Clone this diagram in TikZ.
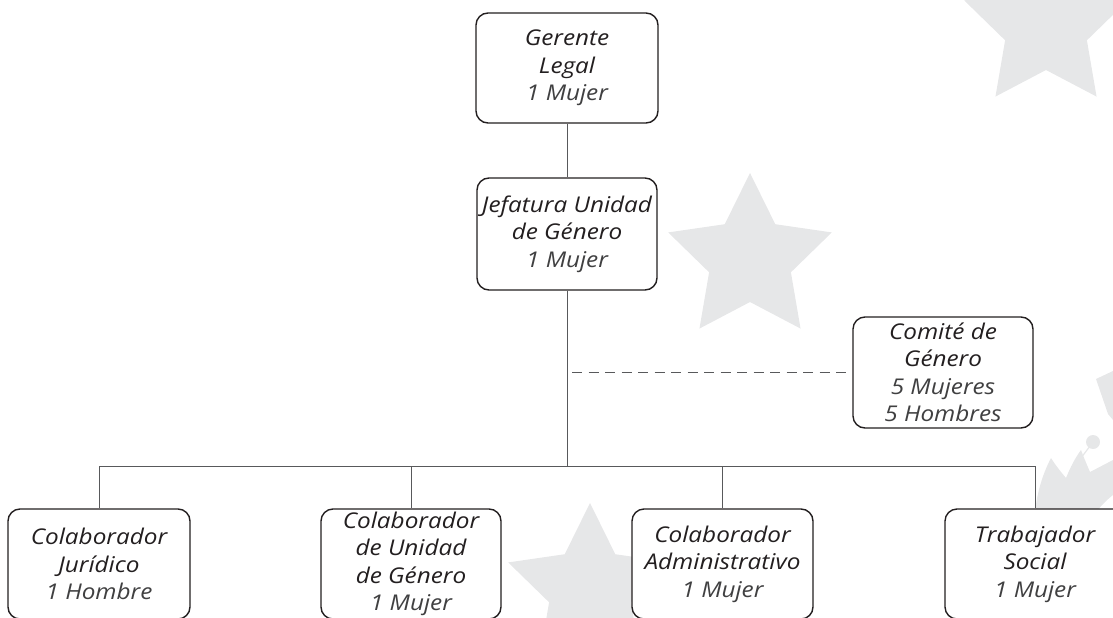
\documentclass[tikz,border=0pt]{standalone}
\usepackage{fontspec}
\setmainfont{Open Sans}[FakeStretch=1.12]
\usetikzlibrary{calc}
\definecolor{starfill}{HTML}{E6E7E8}
\definecolor{boxline}{HTML}{231F20}
\definecolor{txtcol}{HTML}{231F20}
\definecolor{cntcol}{HTML}{404041}
\definecolor{linecol}{HTML}{58595B}
\newcommand\cnt[1]{{\color{cntcol}#1}}
\newcommand\gstar[4]{\fill[starfill,shift={(#1,#2)}] (-90:#3) \foreach \k in {0,...,4}{ -- ({-54+72*\k}:#4) -- ({-18+72*\k}:#3)} -- cycle;}
\tikzset{
  orgbox/.style={draw=boxline, line width=1.4pt, rounded corners=12pt, fill=white,
    minimum width=180pt, minimum height=110pt, inner sep=0pt, align=center,
    text=txtcol, font=\fontsize{21.7}{27.5}\selectfont\itshape},
  conn/.style={draw=linecol, line width=0.9pt},
  dashconn/.style={conn, dash pattern=on 10pt off 6.5pt}
}
\begin{document}
\begin{tikzpicture}[x=1pt,y=-1pt]
\useasboundingbox (0,0) rectangle (1113,618);
\clip (0,0) rectangle (1113,618);
% background decorations
\gstar{750}{259}{86}{43}
\gstar{590}{589}{86}{43}
\gstar{1046}{27}{86}{43}
\fill[starfill] (1096,379) -- (1113,371) -- (1113,420) -- (1108,414) -- cycle;
\fill[starfill] (1093,442) circle (7);
\draw[starfill, line width=1.2pt] (1093,442) -- (1078,462);
\fill[starfill] (1034,530) .. controls (1034,500) and (1042,475) .. (1051,458)
  .. controls (1056,466) and (1061,472) .. (1066,478)
  .. controls (1070,468) and (1075,458) .. (1081,450)
  .. controls (1084,458) and (1087,465) .. (1090,472)
  -- (1113,460) -- (1113,495)
  .. controls (1100,505) and (1090,520) .. (1080,530) -- cycle;
% nodes
\node[orgbox, minimum width=182pt] (gl) at (567,68) {Gerente\\Legal\\\cnt{1 Mujer}};
\node[orgbox, minimum height=112pt] (ju) at (567,234) {Jefatura Unidad\\de Género\\\cnt{1 Mujer}};
\node[orgbox, minimum height=111pt] (com) at (943,372.5) {Comité de\\Género\\\cnt{5 Mujeres}\\\cnt{5 Hombres}};
\node[orgbox, minimum width=182pt] (c1) at (99,564) {Colaborador\\Jurídico\\\cnt{1 Hombre}};
\node[orgbox] (c2) at (411,564) {Colaborador\\de Unidad\\de Género\\\cnt{1 Mujer}};
\node[orgbox, minimum width=181pt] (c3) at (722.5,564) {Colaborador\\Administrativo\\\cnt{1 Mujer}};
\node[orgbox] (c4) at (1035,564) {Trabajador\\Social\\\cnt{1 Mujer}};
% connectors
\coordinate (bus) at (567,466);
\coordinate (busL) at (99,466);
\coordinate (busR) at (1035,466);
\coordinate (dashstart) at (572,372.5);
\draw[conn] (gl.south) -- (ju.north);
\draw[conn] (ju.south) -- (bus);
\draw[conn] (busL) -- (busR);
\draw[conn] (busL) -- (c1.north);
\draw[conn] (c2.north |- bus) -- (c2.north);
\draw[conn] (c3.north |- bus) -- (c3.north);
\draw[conn] (busR) -- (c4.north);
\draw[dashconn] (dashstart) -- (com.west);
\end{tikzpicture}
\end{document}
